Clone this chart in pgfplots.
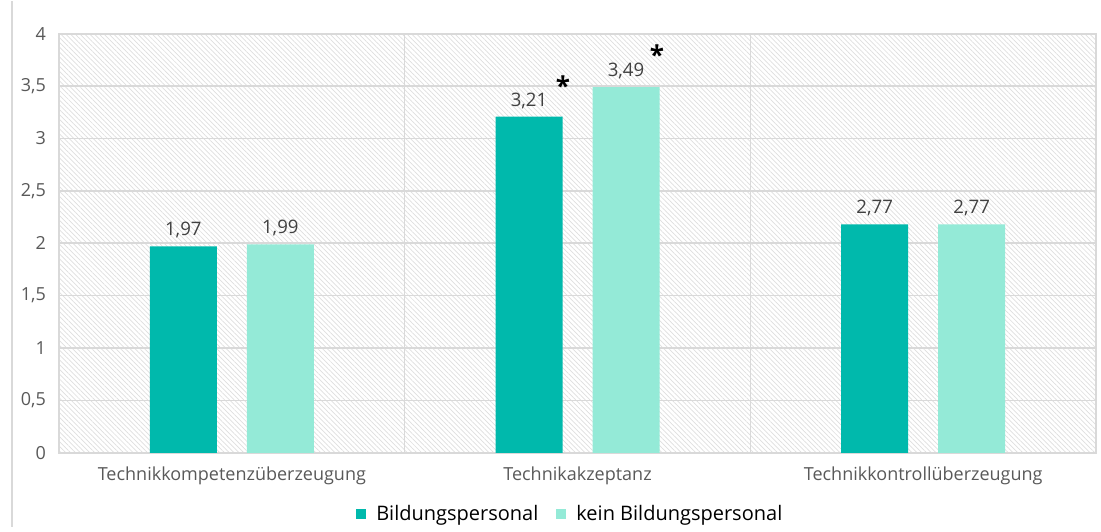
\documentclass[border=0pt]{standalone}
\usepackage{fontspec}
\setmainfont{Open Sans}
\usepackage{pgfplots}
\pgfplotsset{compat=1.18}
\usetikzlibrary{patterns.meta}
\definecolor{teal1}{HTML}{00B9AC}
\definecolor{mint1}{HTML}{94EAD7}
\definecolor{gridc}{HTML}{D9D9D9}
\definecolor{txt}{HTML}{595959}
\definecolor{lbl}{HTML}{404040}
\definecolor{hatch}{HTML}{DEDEDE}
\begin{document}
\begin{tikzpicture}
\begin{axis}[name=ax, at={(0,0)}, anchor=south west,
  scale only axis, width=518.5pt, height=209.5pt,
  ybar=15pt, bar width=33.5pt,
  xmin=-0.5, xmax=2.5, ymin=0, ymax=4,
  xtick={0,1,2},
  xticklabels={Technikkompetenzüberzeugung, Technikakzeptanz, Technikkontrollüberzeugung},
  minor xtick={0.5,1.5}, xminorgrids=true,
  ytick={0,0.5,1,1.5,2,2.5,3,3.5,4}, ymajorgrids=true,
  grid style={gridc, line width=0.8pt},
  minor grid style={gridc, line width=0.8pt},
  axis line style={gridc, line width=0.8pt},
  major tick length=0pt, minor tick length=0pt,
  tick style={draw=none},
  axis background/.style={pattern={Lines[angle=-45,distance=1.7pt,line width=0.35pt]}, pattern color=hatch},
  ticklabel style={font=\fontsize{9}{10}\selectfont, text=txt},
  yticklabel style={/pgf/number format/.cd, use comma, fixed, assume math mode=true, /tikz/.cd, xshift=-3pt},
  xticklabel style={yshift=-3.5pt},
  point meta=explicit symbolic,
  nodes near coords,
  nodes near coords style={font=\fontsize{9.3}{10}\selectfont, text=lbl, anchor=south, yshift=0.5pt},
  legend style={at={(0.494,-0.146)}, anchor=center, legend columns=2, draw=none, fill=none,
    font=\fontsize{10}{11}\selectfont, text=black,
    /tikz/every odd column/.append style={column sep=3pt},
    /tikz/every even column/.append style={column sep=7pt}},
  clip=false,
]
\addplot[fill=teal1, draw=none, legend image code/.code={\fill[teal1] (0pt,-2.5pt) rectangle (5pt,2.5pt);}]
  coordinates {(0,1.97) [1,97] (1,3.21) [3,21] (2,2.18) [2,77]};
\addlegendentry{Bildungspersonal}
\addplot[fill=mint1, draw=none, legend image code/.code={\fill[mint1] (0pt,-2.5pt) rectangle (5pt,2.5pt);}]
  coordinates {(0,1.99) [1,99] (1,3.49) [3,49] (2,2.18) [2,77]};
\addlegendentry{kein Bildungspersonal}
\node[anchor=base, font=\fontsize{13}{13}\selectfont\bfseries] at (axis cs:0.958,3.41) {*};
\node[anchor=base, font=\fontsize{13}{13}\selectfont\bfseries] at (axis cs:1.23,3.71) {*};
\end{axis}
\draw[gridc, line width=0.8pt] (ax.south west) ++(-23.5pt,-37pt) -- ++(0,263pt);
\path (ax.south west) ++(-29.5pt,-37pt) rectangle ++(550.5pt,263pt);
\end{tikzpicture}
\end{document}
